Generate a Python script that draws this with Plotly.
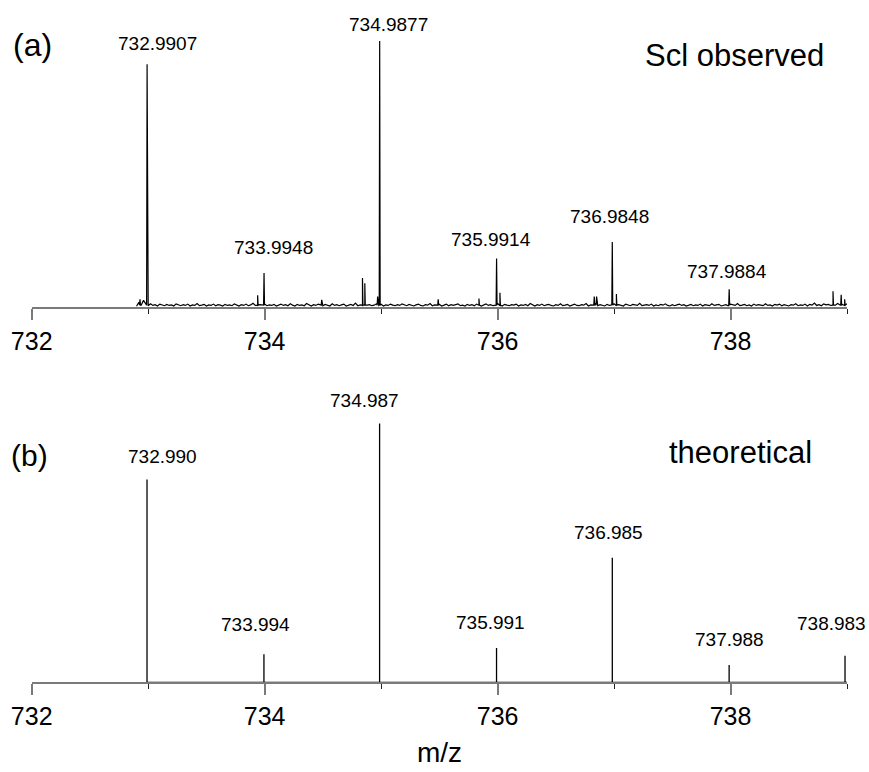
import plotly.graph_objects as go

# ---------------- data ----------------
# observed (a): main isotope peaks (m/z, relative intensity %)
obs_mz = [732.9907, 733.9948, 734.9877, 735.9914, 736.9848, 737.9884]
obs_int = [91.3, 12.9, 100.0, 18.3, 24.5, 6.8]

# observed: small side spikes (m/z, relative intensity %)
spike_mz = [732.93, 733.94, 734.49, 734.84, 734.86, 734.97, 735.49, 735.84,
            736.02, 736.83, 736.85, 737.02, 738.88, 738.95, 738.98]
spike_int = [3.0, 4.5, 2.8, 11.0, 9.0, 4.0, 3.0, 3.3,
             5.5, 4.0, 4.0, 5.0, 6.0, 4.7, 3.0]

# observed: baseline noise, read every 0.02 m/z from 732.90
noise_start = 732.90
noise_step = 0.02
noise_int = [
    0.4, 1.9, 0.8, 2.6, 1.1, 0.6, 1.3, 0.7, 1.0, 0.5, 1.2, 0.8, 0.6, 1.1, 0.7, 0.9, 0.5, 1.3, 0.8, 0.6,
    1.0, 0.7, 1.2, 0.5, 0.9, 0.7, 1.4, 0.6, 0.8, 1.1, 0.5, 0.9, 0.7, 1.2, 0.6, 1.0, 0.8, 0.5, 1.1, 0.7,
    0.9, 0.6, 1.3, 0.8, 0.5, 1.0, 0.7, 1.2, 0.6, 0.9, 1.5, 0.7, 0.5, 1.0, 0.8, 1.2, 0.6, 0.9, 0.7, 1.1,
    0.5, 0.8, 1.2, 0.7, 1.0, 0.6, 1.3, 0.8, 0.5, 1.1, 0.7, 0.9, 0.6, 1.4, 0.8, 0.5, 1.0, 0.7, 1.2, 0.9,
    0.6, 1.1, 0.8, 0.5, 1.3, 0.7, 1.0, 0.6, 0.9, 1.2, 0.5, 0.8, 1.1, 0.7, 1.6, 0.6, 0.9, 0.7, 1.2, 0.8,
    1.0, 0.6, 0.8, 1.3, 0.7, 1.1, 0.5, 0.9, 0.7, 1.2, 0.8, 0.6, 1.0, 0.7, 1.3, 0.9, 0.6, 1.1, 0.8, 0.5,
    0.9, 1.2, 0.7, 0.5, 1.0, 0.8, 1.4, 0.6, 0.9, 0.7, 1.1, 0.5, 0.8, 1.2, 0.6, 1.0, 0.7, 0.9, 1.3, 0.6,
    0.8, 0.5, 1.1, 0.7, 1.0, 0.6, 1.2, 0.9, 0.5, 0.8, 1.3, 0.7, 1.0, 0.6, 0.9, 1.5, 0.7, 0.5, 1.1, 0.8,
    0.6, 1.0, 0.8, 1.2, 0.5, 0.9, 0.7, 1.1, 0.6, 1.4, 0.8, 0.5, 1.0, 0.7, 1.2, 0.6, 0.9, 1.1, 0.7, 0.5,
    1.0, 0.7, 1.3, 0.6, 0.8, 1.1, 0.5, 0.9, 1.2, 0.7, 0.6, 1.0, 0.8, 1.4, 0.5, 0.9, 0.7, 1.2, 0.6, 1.0,
    0.8, 0.5, 1.1, 0.7, 0.9, 1.3, 0.6, 1.0, 0.7, 0.5, 1.2, 0.8, 0.6, 1.1, 0.9, 0.7, 1.5, 0.6, 0.8, 1.0,
    0.7, 1.2, 0.5, 0.9, 0.6, 1.1, 0.8, 1.3, 0.7, 0.5, 1.0, 0.6, 0.9, 1.2, 0.7, 1.0, 0.5, 0.8, 1.1, 0.6,
    0.9, 0.7, 1.2, 0.5, 1.0, 0.8, 0.6, 1.3, 0.7, 0.9, 1.1, 0.5, 0.8, 1.0, 0.6, 1.2, 0.9, 0.7, 1.4, 0.6,
    0.8, 1.1, 0.6, 0.9, 0.5, 1.2, 0.7, 1.0, 0.8, 0.6, 1.3, 0.7, 0.9, 0.5, 1.1, 0.8, 1.2, 0.6, 1.0, 0.7,
    0.5, 1.0, 0.8, 1.3, 0.6, 0.9, 0.7, 1.2, 0.5, 1.1, 0.8, 1.6, 0.7, 1.0, 0.6, 1.3, 0.9, 1.1, 0.7, 1.2,
    0.8, 1.4, 0.9, 1.1, 0.7, 1.3,
]

# theoretical (b)
theo_mz = [732.990, 733.994, 734.987, 735.991, 736.985, 737.988, 738.983]
theo_int = [78.4, 10.8, 100.0, 13.3, 48.1, 6.7, 10.3]

x_range = [732, 739]
tick_vals = [732, 734, 736, 738]
tick_text = ["732", "734", "736", "738"]
minor_vals = [733, 735, 737, 739]

# ---------------- geometry (pixels) ----------------
W, H = 869, 772
PX_L, PX_R = 31.7, 847.0
TOP_BASE, TOP_FULL = 307.3, 41.0
BOT_BASE, BOT_FULL, BOT_TOP = 682.3, 423.5, 340.0

def py(p):
    return 1 - p / H

def px(p):
    return p / W

FONT = "Liberation Sans, Arial, sans-serif"

# ---------------- build observed trace ----------------
pts = []
for i, v in enumerate(noise_int):
    pts.append((noise_start + i * noise_step, v))
for m, h in list(zip(obs_mz, obs_int)) + list(zip(spike_mz, spike_int)):
    pts.append((m - 0.004, 0.8))
    pts.append((m, h))
    pts.append((m + 0.004, 0.8))
pts.sort(key=lambda t: t[0])
obs_x = [p[0] for p in pts if p[0] <= 739.0]
obs_y = [p[1] for p in pts if p[0] <= 739.0]

theo_x, theo_y = [], []
for m, h in zip(theo_mz, theo_int):
    theo_x += [m, m, m]
    theo_y += [0, h, 0]
theo_x.append(739.0)
theo_y.append(0)

fig = go.Figure()
fig.add_trace(go.Scatter(x=obs_x, y=obs_y, mode="lines",
                         line=dict(color="black", width=1.2),
                         xaxis="x", yaxis="y", hoverinfo="skip"))
fig.add_trace(go.Scatter(x=theo_x, y=theo_y, mode="lines",
                         line=dict(color="black", width=1.3),
                         xaxis="x2", yaxis="y2", hoverinfo="skip"))

top_rng = TOP_BASE / ((TOP_BASE - TOP_FULL) / 100.0)
bot_rng = (BOT_BASE - BOT_TOP) / ((BOT_BASE - BOT_FULL) / 100.0)

xa = dict(range=x_range, showgrid=False, zeroline=False, showline=True, automargin=False,
          linecolor="#7a7a7a", linewidth=1.5, ticks="outside", ticklen=11,
          tickwidth=1.5, tickcolor="#7a7a7a", tickvals=tick_vals, ticktext=tick_text,
          tickfont=dict(family=FONT, size=25, color="black"), ticklabelstandoff=0,
          minor=dict(tickvals=minor_vals, ticks="outside", ticklen=5,
                     tickwidth=1.3, tickcolor="#222222"),
          domain=[px(PX_L), px(PX_R)], fixedrange=True)

fig.update_layout(
    width=W, height=H, margin=dict(l=0, r=0, t=0, b=0, autoexpand=False),
    paper_bgcolor="white", plot_bgcolor="white", showlegend=False,
    xaxis=dict(xa, anchor="y"),
    xaxis2=dict(xa, anchor="y2"),
    yaxis=dict(range=[0, top_rng], domain=[py(TOP_BASE), 1], visible=False,
               anchor="x", automargin=False),
    yaxis2=dict(range=[0, bot_rng], domain=[py(BOT_BASE), py(BOT_TOP)], visible=False,
                anchor="x2", automargin=False),
)

# peak labels
top_xshift = [10, 9.7, 8.5, -6, -3, -2]
top_yshift = [21, 25, 16.5, 19.4, 26, 17.5]
for m, h, dx, dy in zip(obs_mz, obs_int, top_xshift, top_yshift):
    fig.add_annotation(x=m, y=h, xref="x", yref="y", text=f"{m:.4f}", showarrow=False,
                       xanchor="center", yanchor="middle", xshift=dx, yshift=dy,
                       font=dict(family=FONT, size=19, color="black"))

bot_xshift = [15, -8.6, -15, -6, -3.5, 0.6, -14]
bot_yshift = [23, 30, 22.7, 25.5, 25.5, 25, 32.4]
for m, h, dx, dy in zip(theo_mz, theo_int, bot_xshift, bot_yshift):
    fig.add_annotation(x=m, y=h, xref="x2", yref="y2", text=f"{m:.3f}", showarrow=False,
                       xanchor="center", yanchor="middle", xshift=dx, yshift=dy,
                       font=dict(family=FONT, size=19, color="black"))

texts = [
    ("(a)", 32.8, 45.5, 32),
    ("(b)", 29.7, 455.0, 30),
    ("Scl observed", 734.2, 55.0, 31),
    ("theoretical", 740.5, 452.0, 31),
    ("m/z", 439.0, 752.0, 28),
]
for t, xx, yy, fs in texts:
    fig.add_annotation(x=px(xx), y=py(yy), xref="paper", yref="paper", text=t,
                       showarrow=False, xanchor="center", yanchor="middle",
                       font=dict(family=FONT, size=fs, color="black"))

fig.write_html("out.html")
